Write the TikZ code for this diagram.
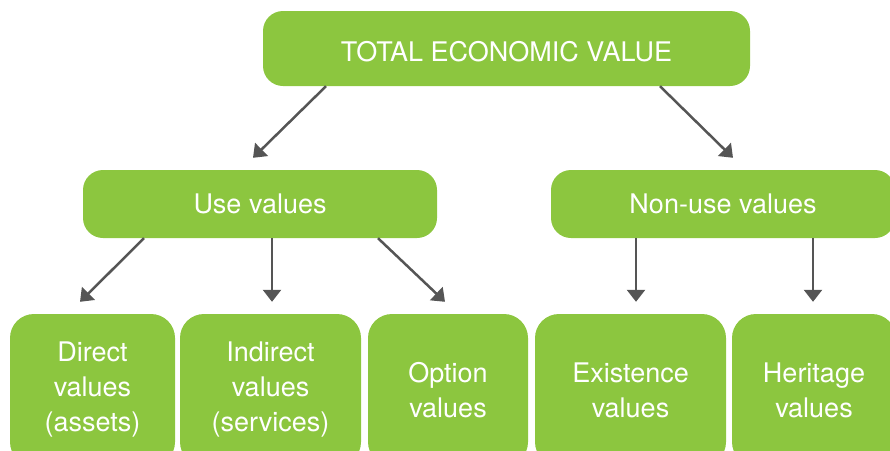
\documentclass[tikz,border=0pt]{standalone}
\usepackage{fontspec}
\setsansfont{TeX Gyre Heros}
\usepackage{tikz}
\usetikzlibrary{arrows.meta,positioning}
\definecolor{valgreen}{HTML}{8CC63F}
\definecolor{arrgray}{HTML}{555555}

\begin{document}
\begin{tikzpicture}[
x=1pt, y=-1pt,
font=\sffamily\fontsize{27}{35}\selectfont,
valbox/.style={fill=valgreen, draw=none, text=white, rounded corners=20pt, inner sep=0pt, align=center},
leafbox/.style={valbox, minimum height=152pt, rounded corners=24pt},
branch/.style={draw=arrgray, line width=2.5pt, -{Triangle[length=12pt,width=18pt]}}
]
    % Canvas
    \useasboundingbox (0,0) rectangle (890,450);
    \clip (0,0) rectangle (890,450);

    % Top box
    \node[valbox, minimum width=487pt, minimum height=75pt, text height=27pt] (total) at (506.5,48.5) {TOTAL ECONOMIC VALUE};

    % Middle boxes
    \node[valbox, minimum width=354pt, minimum height=68pt] (use) at (260,204) {Use values};
    \node[valbox, minimum width=344pt, minimum height=68pt] (nonuse) at (723,204) {Non-use values};

    % Bottom boxes
    \node[leafbox, minimum width=165pt] (direct) at (92.5,390) {Direct\\values\\(assets)};
    \node[leafbox, minimum width=181pt] (indirect) at (270.5,390) {Indirect\\values\\(services)};
    \node[leafbox, minimum width=160pt] (option) at (448,390) {Option\\values};
    \node[leafbox, minimum width=191pt] (existence) at (630.5,390) {Existence\\values};
    \node[leafbox, minimum width=164pt] (heritage) at (814,390) {Heritage\\values};

    % Arrows
    \draw[branch] ([xshift=-180.5pt]total.south) -- ([xshift=-7pt,yshift=12pt]use.north);
    \draw[branch] ([xshift=153.5pt]total.south) -- ([xshift=10pt,yshift=12pt]nonuse.north);

    \draw[branch] ([xshift=-116pt]use.south) -- ([xshift=-12.5pt,yshift=12pt]direct.north);
    \draw[branch] ([xshift=12pt]use.south) -- ([xshift=1.5pt,yshift=12pt]indirect.north);
    \draw[branch] ([xshift=118pt]use.south) -- ([xshift=-3pt,yshift=12pt]option.north);

    \draw[branch] ([xshift=-87pt]nonuse.south) -- ([xshift=5.5pt,yshift=12pt]existence.north);
    \draw[branch] ([xshift=90pt]nonuse.south) -- ([xshift=-1pt,yshift=12pt]heritage.north);

\end{tikzpicture}
\end{document}
